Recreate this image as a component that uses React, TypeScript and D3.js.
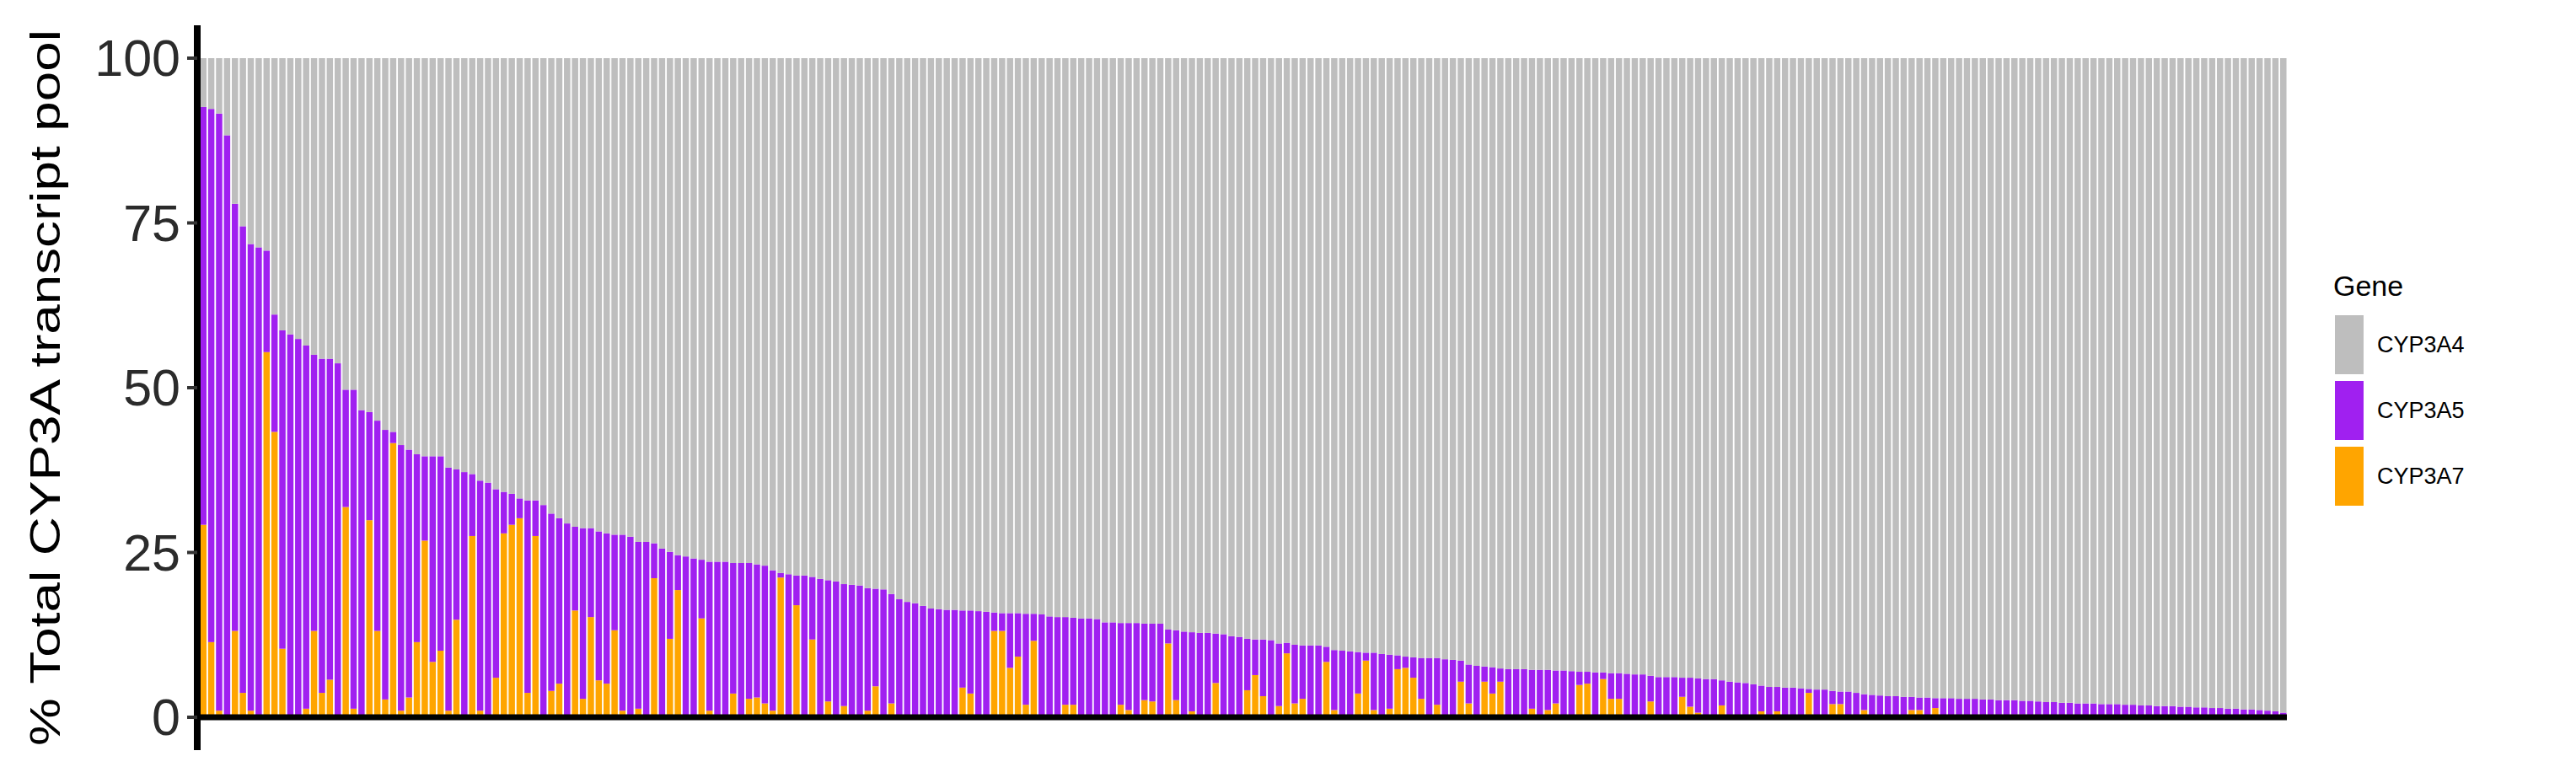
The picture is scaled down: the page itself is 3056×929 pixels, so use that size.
import React from 'react';
import * as d3 from 'd3';

const geneKeys = ['CYP3A7', 'CYP3A5', 'CYP3A4'];
const legendOrder = ['CYP3A4', 'CYP3A5', 'CYP3A7'];
const geneColors: Record<string, string> = { CYP3A4: '#BEBEBE', CYP3A5: '#A020F0', CYP3A7: '#FFA500' };
const yTicks = [0, 25, 50, 75, 100];

// Top of the purple segment (CYP3A5 + CYP3A7, %), per sample, in plotted order
const topValues = [
  92.6, 92.3, 91.6, 88.3, 77.9, 74.5, 71.8, 71.3, 70.8, 61.1, 58.7, 58.1, 57.4, 56.4, 55.0, 54.4, 54.4, 53.7, 49.7, 49.7, 46.6, 46.3,
  45.0, 43.6, 43.3, 41.3, 40.6, 39.9, 39.6, 39.6, 39.6, 37.9, 37.6, 37.2, 36.9, 35.9, 35.6, 34.6, 34.2, 33.9, 33.2, 32.9, 32.9, 32.2, 30.9,
  30.2, 29.4, 28.9, 28.7, 28.7, 28.2, 27.9, 27.7, 27.7, 27.4, 26.6, 26.6, 26.4, 25.6, 25.1, 24.6, 24.4, 24.1, 23.9, 23.6, 23.6, 23.6, 23.4,
  23.4, 23.4, 23.2, 23.0, 22.3, 21.9, 21.7, 21.5, 21.5, 21.3, 21.0, 20.8, 20.6, 20.2, 20.1, 20.0, 19.6, 19.5, 19.4, 18.7, 17.9, 17.5, 17.3,
  16.9, 16.5, 16.4, 16.3, 16.3, 16.2, 16.2, 16.1, 16.0, 15.9, 15.8, 15.8, 15.8, 15.7, 15.7, 15.6, 15.3, 15.2, 15.2, 15.1, 15.0, 15.0, 14.9,
  14.4, 14.4, 14.3, 14.3, 14.3, 14.2, 14.2, 14.2, 13.3, 13.2, 13.0, 12.9, 12.8, 12.8, 12.7, 12.6, 12.3, 12.2, 11.9, 11.8, 11.8, 11.7, 11.2,
  11.3, 11.0, 10.9, 10.9, 10.9, 10.7, 10.2, 10.1, 10.0, 9.9, 9.8, 9.8, 9.6, 9.5, 9.4, 9.2, 9.1, 9.0, 9.0, 9.0, 8.8, 8.7, 8.6,
  8.0, 7.8, 7.7, 7.6, 7.4, 7.3, 7.3, 7.3, 7.2, 7.2, 7.2, 7.1, 7.1, 7.0, 6.9, 6.9, 6.8, 6.8, 6.7, 6.7, 6.6, 6.5, 6.5,
  6.3, 6.1, 6.1, 6.1, 6.0, 6.0, 5.9, 5.8, 5.8, 5.6, 5.4, 5.3, 5.2, 5.0, 4.8, 4.6, 4.6, 4.5, 4.5, 4.4, 4.3, 4.2, 4.2,
  4.0, 3.9, 3.9, 3.7, 3.5, 3.4, 3.3, 3.2, 3.2, 3.1, 3.1, 3.0, 3.0, 2.9, 2.9, 2.9, 2.8, 2.8, 2.8, 2.7, 2.7, 2.6, 2.6,
  2.6, 2.5, 2.5, 2.4, 2.3, 2.3, 2.2, 2.2, 2.1, 2.1, 2.1, 2.0, 2.0, 2.0, 1.9, 1.9, 1.8, 1.8, 1.7, 1.7, 1.7, 1.6, 1.6, 1.5, 1.5, 1.4, 1.4, 1.3, 1.3, 1.2, 1.2, 1.1, 1.0, 0.9, 0.7,
];

// CYP3A7 share (%), per sample
const cyp3a7Values = [
  29.2, 11.4, 1, 0, 13.1, 3.7, 1, 0, 55.4, 43.3, 10.4, 0, 0, 1.3, 13.1, 3.7, 5.7, 0, 31.9, 1.3, 0, 29.9,
  13.1, 2.7, 41.6, 1, 3, 11.4, 26.8, 8.4, 10.1, 1, 14.8, 0, 27.5, 1, 0, 6, 27.9, 29.2, 30.2, 3.7, 27.5, 0, 4,
  5.1, 0, 16.2, 2.8, 15.2, 5.6, 5.1, 13.2, 1, 0, 1.3, 0, 21.1, 0, 11.9, 19.3, 0, 0, 15, 1, 0, 0, 3.6,
  0, 2.8, 3, 2.1, 1, 21.2, 0, 17, 0, 11.8, 0, 2.4, 0, 1.7, 0, 0, 1, 4.7, 0, 2.1, 0, 0, 0,
  0, 0, 0, 0, 0, 4.5, 3.6, 0, 0, 13.1, 13.1, 7.5, 9.2, 1.9, 11.6, 0, 0, 0, 1.9, 1.9, 0, 0, 0,
  0, 0, 1.9, 1.1, 0, 2.6, 2.4, 0, 11.2, 2.6, 0, 0.9, 0, 0, 5.2, 0, 0, 0, 4.1, 6.4, 3.2, 0, 1.7,
  9.7, 2.1, 2.8, 0, 0, 8.4, 1.1, 0, 0, 3.6, 8.6, 1.1, 0, 1.3, 7.3, 7.5, 6.0, 2.8, 0, 1.9, 0, 0, 5.4,
  2.1, 0, 5.4, 3.6, 5.4, 0, 0, 0, 1.3, 0, 1.1, 2.1, 0, 0, 4.9, 5.1, 0, 5.8, 2.8, 2.8, 0, 0, 0,
  2.4, 0, 0, 0, 3.1, 1.6, 0.7, 0, 0, 1.8, 0, 0, 0, 0, 0.9, 0, 0.9, 0, 0, 0, 3.7, 0, 0,
  2.0, 2.0, 0, 0, 1.1, 0, 0, 0, 0, 0, 1.1, 1.1, 0, 1.4, 0, 0, 0, 0, 0, 0, 0, 0, 0,
  0.4, 0.4, 0, 0, 0, 0, 0, 0, 0, 0, 0, 0, 0, 0, 0, 0, 0, 0, 0, 0, 0, 0, 0, 0, 0, 0, 0, 0, 0, 0, 0, 0, 0, 0, 0,
];

const FONT = '"Liberation Sans", Arial, Helvetica, sans-serif';

export default function App() {
  const W = 3056;
  const H = 929;
  const n = topValues.length;

  const rows = topValues.map((t, i) => ({
    CYP3A7: cyp3a7Values[i],
    CYP3A5: t - cyp3a7Values[i],
    CYP3A4: 100 - t,
  }));

  const x = d3
    .scaleBand<number>()
    .domain(d3.range(n))
    .range([237, 2713])
    .paddingInner(0.2)
    .paddingOuter(0.05);
  const y = d3.scaleLinear().domain([0, 100]).range([851, 69]);

  const series = d3.stack<any>().keys(geneKeys)(rows as any);

  const axisX = 234;

  return (
    <svg
      width={W}
      height={H}
      viewBox={`0 0 ${W} ${H}`}
      style={{ position: 'absolute', left: 0, top: 0, background: '#fff' }}
    >
      <rect x={0} y={0} width={W} height={H} fill="#fff" />
      {series.map((s) => (
        <g key={s.key} fill={geneColors[s.key]}>
          {s.map((d, i) => {
            const h = y(d[0]) - y(d[1]);
            if (h <= 0) return null;
            return <rect key={i} x={x(i)} y={y(d[1])} width={x.bandwidth()} height={h} />;
          })}
        </g>
      ))}

      {/* axes */}
      <line x1={axisX} x2={2713} y1={y(0)} y2={y(0)} stroke="#000" strokeWidth={7} />
      <line x1={axisX} x2={axisX} y1={y(105)} y2={y(-5)} stroke="#000" strokeWidth={8} />
      {yTicks.map((t) => (
        <g key={t}>
          <line x1={axisX - 12} x2={axisX} y1={y(t)} y2={y(t)} stroke="#333" strokeWidth={4} />
          <text
            x={axisX - 20}
            y={y(t)}
            textAnchor="end"
            dominantBaseline="central"
            fontFamily={FONT}
            fontSize={61}
            fill="#2b2b2b"
          >
            {t}
          </text>
        </g>
      ))}
      <text
        transform={`translate(71, ${(y(105) + y(-5)) / 2}) rotate(-90)`}
        textAnchor="middle"
        fontFamily={FONT}
        fontSize={50}
        fill="#000"
        textLength={850}
        lengthAdjust="spacingAndGlyphs"
      >
        % Total CYP3A transcript pool
      </text>

      {/* legend */}
      <text x={2768} y={351} fontFamily={FONT} fontSize={34} fill="#000">
        Gene
      </text>
      {legendOrder.map((g, i) => (
        <g key={g}>
          <rect x={2770} y={374 + i * 78} width={34} height={70} fill={geneColors[g]} />
          <text
            x={2820}
            y={374 + i * 78 + 35}
            dominantBaseline="central"
            fontFamily={FONT}
            fontSize={27}
            fill="#000"
          >
            {g}
          </text>
        </g>
      ))}
    </svg>
  );
}
